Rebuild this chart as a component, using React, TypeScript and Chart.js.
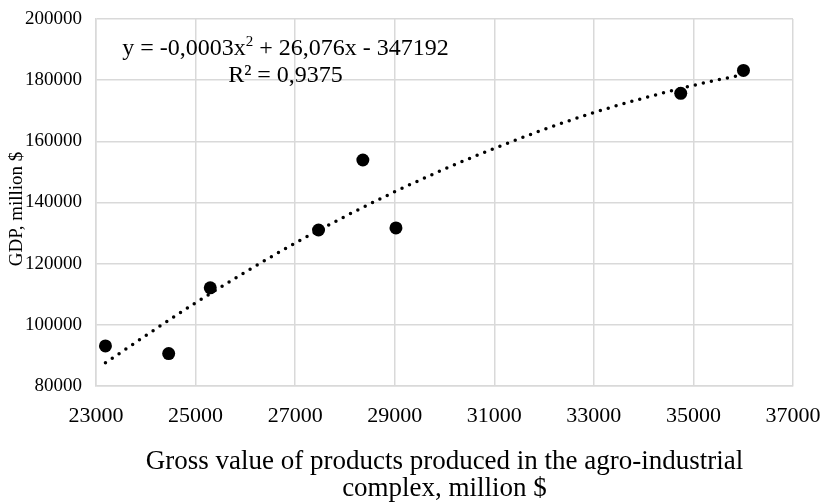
import React, { useEffect, useRef } from 'react';
import { Chart, registerables } from 'chart.js';

Chart.register(...registerables);

// Scatter observations: gross value of agro-industrial products (x) vs GDP (y), million $
const pointX = [23190, 24460, 25295, 27470, 28360, 29025, 34745, 36005];
const pointY = [93100, 90600, 112100, 131000, 153900, 131700, 175700, 183200];

// Polynomial trendline
const trendX = [23190, 25000, 27000, 29000, 31000, 33000, 35000, 36000];
const trendY = [87600, 107200, 126700, 143500, 157700, 169400, 178300, 181800];

const xTicks = [23000, 25000, 27000, 29000, 31000, 33000, 35000, 37000];
const yTicks = [80000, 100000, 120000, 140000, 160000, 180000, 200000];

const eqPart1 = 'y = -0,0003x';
const eqSup = '2';
const eqPart2 = ' + 26,076x - 347192';
const r2Text = 'R² = 0,9375';
const yTitle = 'GDP, million $';
const xTitle = ['Gross value of products produced in the agro-industrial', 'complex, million $'];

const FONT = '"Liberation Serif", "Times New Roman", Times, serif';

const textPlugin = {
  id: 'customTexts',
  afterDraw(chart: any) {
    const ctx: CanvasRenderingContext2D = chart.ctx;
    const a = chart.chartArea;
    ctx.save();
    ctx.fillStyle = '#000';
    ctx.textBaseline = 'alphabetic';

    // equation line 1
    const cx = a.left + 189.5;
    const main = `24px ${FONT}`;
    const sup = `15px ${FONT}`;
    ctx.font = main;
    const w1 = ctx.measureText(eqPart1).width;
    const w2 = ctx.measureText(eqPart2).width;
    ctx.font = sup;
    const ws = ctx.measureText(eqSup).width;
    const total = w1 + ws + w2;
    let x = cx - total / 2;
    const base1 = a.top + 36;
    ctx.textAlign = 'left';
    ctx.font = main;
    ctx.fillText(eqPart1, x, base1);
    x += w1;
    ctx.font = sup;
    ctx.fillText(eqSup, x, base1 - 9);
    x += ws;
    ctx.font = main;
    ctx.fillText(eqPart2, x, base1);

    // R² line
    ctx.textAlign = 'center';
    ctx.fillText(r2Text, cx, a.top + 63);

    // y-axis title
    ctx.translate(16.6, 209);
    ctx.rotate(-Math.PI / 2);
    ctx.font = `19px ${FONT}`;
    ctx.textAlign = 'center';
    ctx.textBaseline = 'middle';
    ctx.fillText(yTitle, 0, 0);
    ctx.restore();
  },
};

export default function App() {
  const ref = useRef<HTMLCanvasElement | null>(null);

  useEffect(() => {
    if (!ref.current) return;
    const chart = new Chart(ref.current, {
      type: 'scatter',
      data: {
        datasets: [
          {
            label: 'data',
            data: pointX.map((x, i) => ({ x, y: pointY[i] })),
            pointRadius: 6.5,
            pointHoverRadius: 6.5,
            backgroundColor: '#000',
            borderColor: '#000',
            borderWidth: 0,
            showLine: false,
          },
          {
            label: 'trend',
            data: trendX.map((x, i) => ({ x, y: trendY[i] })),
            showLine: true,
            pointRadius: 0,
            borderColor: '#000',
            borderWidth: 3.5,
            borderDash: [0, 8.2],
            borderCapStyle: 'round',
            cubicInterpolationMode: 'monotone',
            fill: false,
          } as any,
        ],
      },
      options: {
        animation: false,
        responsive: false,
        layout: { padding: { top: 19, right: 33, left: 0, bottom: 0 } },
        plugins: {
          legend: { display: false },
          tooltip: { enabled: false },
        },
        scales: {
          x: {
            type: 'linear',
            min: xTicks[0],
            max: xTicks[xTicks.length - 1],
            afterBuildTicks: (s: any) => {
              s.ticks = xTicks.map((v) => ({ value: v }));
            },
            afterFit: (s: any) => {
              s.height = 116;
              s.paddingLeft = 0;
              s.paddingRight = 0;
              s.paddingTop = 0;
              s.paddingBottom = 0;
            },
            ticks: {
              color: '#000',
              font: { family: FONT, size: 22 },
              padding: 17,
              maxRotation: 0,
              callback: (v: any) => String(v),
            },
            grid: { color: '#d9d9d9', lineWidth: 1.5, drawTicks: false },
            border: { color: '#d9d9d9', width: 1.5 },
            title: {
              display: true,
              text: xTitle,
              color: '#000',
              font: { family: FONT, size: 27, lineHeight: 1.0 },
              padding: { top: 0, bottom: 0 },
            },
          },
          y: {
            type: 'linear',
            min: yTicks[0],
            max: yTicks[yTicks.length - 1],
            afterBuildTicks: (s: any) => {
              s.ticks = yTicks.map((v) => ({ value: v }));
            },
            afterFit: (s: any) => {
              s.width = 96;
              s.paddingLeft = 0;
              s.paddingRight = 0;
              s.paddingTop = 0;
              s.paddingBottom = 0;
            },
            ticks: {
              color: '#000',
              font: { family: FONT, size: 19 },
              padding: 14,
              callback: (v: any) => String(v),
            },
            grid: { color: '#d9d9d9', lineWidth: 1.5, drawTicks: false },
            border: { color: '#d9d9d9', width: 1.5 },
          },
        },
      },
      plugins: [textPlugin],
    });
    return () => chart.destroy();
  }, []);

  return (
    <div style={{ position: 'absolute', left: 0, top: 0, width: 826, height: 502, background: '#fff' }}>
      <canvas ref={ref} width={826} height={502} style={{ display: 'block' }} />
    </div>
  );
}
